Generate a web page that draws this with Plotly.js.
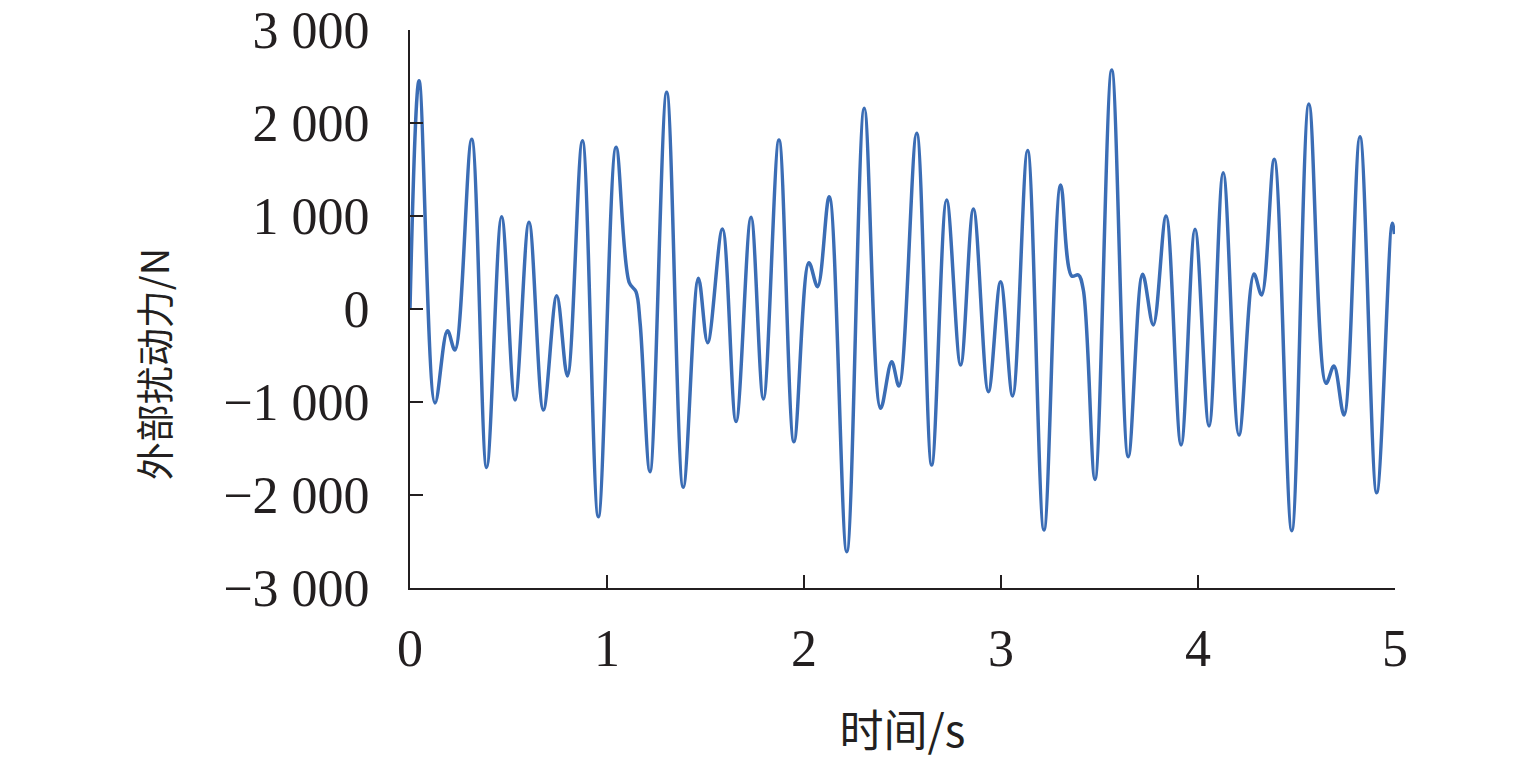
<!DOCTYPE html>
<html>
<head>
<meta charset="utf-8">
<script src="https://cdn.plot.ly/plotly-3.0.1.min.js"></script>
<style>
  html, body { margin: 0; padding: 0; background: #ffffff; }
  #chart { width: 1535px; height: 765px; }
</style>
</head>
<body>
<div id="chart"></div>
<script>
// Time (s) of each read-off point on the curve
const timeS = [
  0.000, 0.046, 0.127, 0.190, 0.228, 0.313, 0.389, 0.465, 0.533, 0.604,
  0.677, 0.745, 0.799, 0.875, 0.956, 1.046, 1.113, 1.147, 1.168, 1.218,
  1.303, 1.387, 1.464, 1.511, 1.586, 1.655, 1.731, 1.794, 1.873, 1.949,
  2.025, 2.069, 2.128, 2.217, 2.306, 2.389, 2.445, 2.482, 2.572, 2.648,
  2.724, 2.795, 2.860, 2.936, 2.998, 3.059, 3.135, 3.218, 3.303, 3.359,
  3.393, 3.418, 3.477, 3.562, 3.646, 3.719, 3.773, 3.838, 3.914, 3.985,
  4.056, 4.128, 4.208, 4.284, 4.323, 4.387, 4.476, 4.563, 4.650, 4.690,
  4.741, 4.822, 4.907, 4.986, 4.997
];
// External disturbance force (N)
const forceN = [
  0, 2455, -1011, -233, -441, 1824, -1703, 993, -978, 932,
  -1086, 143, -720, 1810, -2233, 1738, 283, 186, -151, -1749,
  2330, -1918, 330, -362, 860, -1211, 986, -968, 1817, -1427,
  498, 240, 1208, -2609, 2158, -1068, -566, -828, 1889, -1677,
  1172, -602, 1075, -889, 294, -935, 1703, -2376, 1333, 355,
  366, 204, -1832, 2570, -1588, 373, -172, 1000, -1462, 857,
  -1258, 1466, -1355, 376, 151, 1609, -2384, 2204, -799, -613,
  -1140, 1853, -1975, 921, 806
];

const xTickVals = [0, 1, 2, 3, 4, 5];
const xTickText = ["0", "1", "2", "3", "4", "5"];
const yTickVals = [-3000, -2000, -1000, 0, 1000, 2000, 3000];
const yTickText = ["\u22123 000", "\u22122 000", "\u22121 000", "0", "1 000", "2 000", "3 000"];

const xTitle = "时间/s";
const yTitle = "外部扰动力/N";

const serif = "'Liberation Serif', 'Times New Roman', 'Noto Sans CJK SC', serif";
const cjk = "'Noto Sans CJK SC', 'Liberation Serif', serif";
const ink = "#231f20";

const trace = {
  x: timeS,
  y: forceN,
  type: "scatter",
  mode: "lines",
  line: { color: "#3b6db5", width: 3.5, shape: "spline", smoothing: 1 },
  hoverinfo: "x+y",
  showlegend: false
};

const layout = {
  width: 1535,
  height: 765,
  paper_bgcolor: "#ffffff",
  plot_bgcolor: "#ffffff",
  margin: { l: 410, r: 140, t: 30, b: 177, pad: 0 },
  showlegend: false,
  xaxis: {
    range: [0, 5],
    tickvals: xTickVals,
    ticktext: xTickText,
    ticks: "inside",
    ticklen: 13,
    tickwidth: 2,
    tickcolor: ink,
    showline: true,
    linecolor: ink,
    linewidth: 2,
    showgrid: false,
    zeroline: false,
    ticklabelstandoff: 14,
    tickfont: { family: serif, size: 52, color: ink },
    title: {
      text: xTitle,
      font: { family: cjk, size: 44, color: ink },
      standoff: 40
    },
    automargin: false
  },
  yaxis: {
    range: [-3000, 3000],
    tickvals: yTickVals,
    ticktext: yTickText,
    ticks: "inside",
    ticklen: 13,
    tickwidth: 2,
    tickcolor: ink,
    showline: true,
    linecolor: ink,
    linewidth: 2,
    showgrid: false,
    zeroline: false,
    ticklabelstandoff: 28,
    tickfont: { family: serif, size: 52, color: ink },
    automargin: false
  },
  annotations: [{
    text: yTitle,
    xref: "paper",
    yref: "paper",
    x: -0.262,
    y: 0.401,
    xanchor: "center",
    yanchor: "middle",
    textangle: -90,
    showarrow: false,
    font: { family: cjk, size: 38, color: ink }
  }]
};

Plotly.newPlot("chart", [trace], layout, { displayModeBar: false, staticPlot: true });
</script>
</body>
</html>
